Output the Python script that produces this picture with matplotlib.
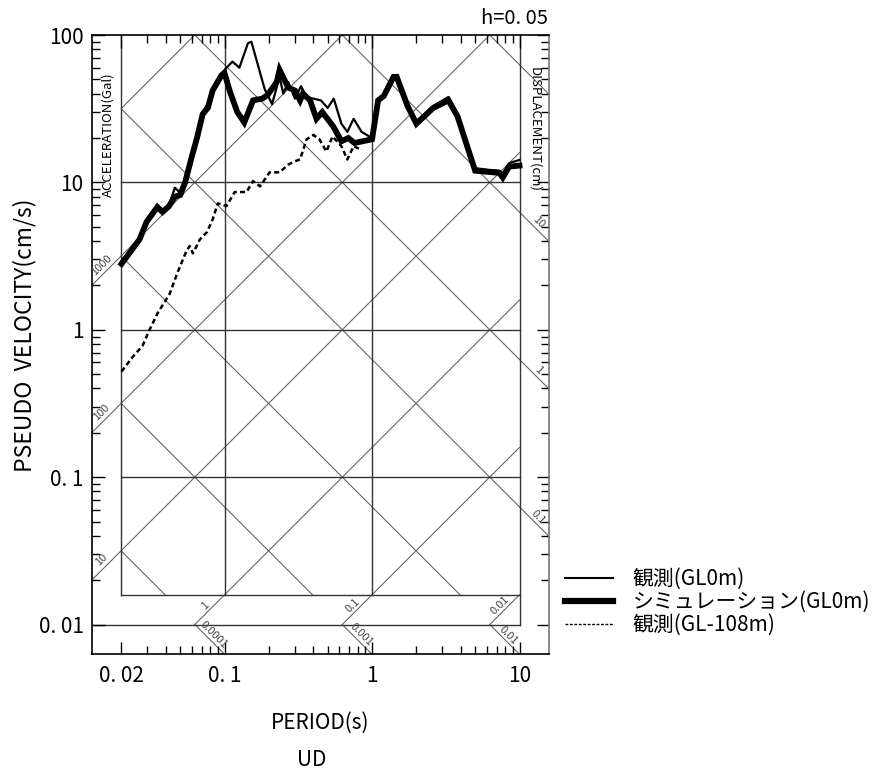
import numpy as np
import matplotlib
matplotlib.use("Agg")
import matplotlib.pyplot as plt
from matplotlib.lines import Line2D

# simulation (GL0m), thick line
period_sim = [0.02, 0.0265, 0.0296, 0.035, 0.038, 0.042, 0.046, 0.050, 0.054, 0.060,
              0.065, 0.071, 0.077, 0.083, 0.095, 0.10, 0.109, 0.122, 0.136, 0.156,
              0.18, 0.195, 0.226, 0.236, 0.27, 0.30, 0.325, 0.34, 0.38, 0.42,
              0.46, 0.545, 0.62, 0.69, 0.76, 0.86, 1.0, 1.1, 1.2, 1.4,
              1.47, 1.74, 2.0, 2.6, 3.3, 3.8, 5.0, 6.0, 7.3, 7.7, 8.5, 10.0]
vel_sim = [2.8, 4.1, 5.4, 6.8, 6.3, 6.9, 8.0, 8.2, 10.0, 15.0,
           20.0, 29.0, 32.0, 42.0, 53.0, 55.0, 41.0, 30.0, 25.5, 36.0,
           37.0, 39.0, 48.0, 58.0, 44.0, 42.0, 36.0, 40.0, 36.0, 27.0,
           30.0, 24.0, 19.0, 20.0, 18.5, 19.0, 19.6, 36.0, 38.5, 52.0,
           52.0, 33.0, 25.0, 32.0, 36.0, 28.0, 12.0, 11.8, 11.6, 10.8, 12.8, 13.0]

# observed (GL0m), thin line
period_obs = [0.02, 0.0265, 0.0296, 0.035, 0.038, 0.042, 0.046, 0.050, 0.054, 0.060,
              0.065, 0.071, 0.077, 0.083, 0.095, 0.10, 0.113, 0.126, 0.144, 0.152,
              0.187, 0.21, 0.236, 0.25, 0.27, 0.30, 0.33, 0.36, 0.40, 0.45,
              0.50, 0.55, 0.62, 0.68, 0.75, 0.85, 1.0, 1.1, 1.2, 1.4,
              1.47, 1.74, 2.0, 2.6, 3.3, 3.8, 5.0, 6.0, 7.3, 7.7, 8.5, 10.0]
vel_obs = [2.9, 4.2, 5.6, 7.0, 6.5, 7.0, 9.2, 8.5, 10.2, 15.5,
           21.0, 30.0, 34.0, 44.0, 55.0, 58.0, 66.0, 60.0, 88.0, 90.0,
           43.0, 34.0, 52.0, 40.0, 48.0, 37.0, 45.0, 38.0, 37.0, 36.0,
           32.0, 37.0, 25.0, 22.0, 27.0, 22.0, 20.0, 37.0, 39.0, 53.0,
           53.0, 34.0, 26.0, 33.0, 38.0, 29.0, 12.5, 12.2, 12.0, 11.5, 13.5, 14.2]

# observed (GL-108m), dashed line
period_deep = [0.02, 0.0237, 0.0278, 0.031, 0.0352, 0.0424, 0.048, 0.055, 0.058, 0.061,
               0.068, 0.076, 0.083, 0.09, 0.103, 0.117, 0.141, 0.156, 0.174, 0.202,
               0.236, 0.27, 0.30, 0.325, 0.36, 0.40, 0.44, 0.49, 0.54, 0.62,
               0.68, 0.75, 0.83]
vel_deep = [0.52, 0.65, 0.78, 1.0, 1.3, 1.75, 2.45, 3.4, 3.7, 3.3,
            4.1, 4.6, 5.6, 7.2, 6.9, 8.6, 8.6, 10.2, 9.4, 11.7,
            11.7, 13.2, 13.9, 14.3, 19.6, 21.0, 19.6, 16.2, 20.5, 17.6,
            14.3, 17.6, 16.8]

accel_levels = [0.01, 0.1, 1, 10, 100, 1000, 10000, 100000]   # Gal
disp_levels = [0.0001, 0.001, 0.01, 0.1, 1, 10, 100]          # cm

plt.rcParams['font.family'] = ['Noto Sans CJK JP', 'DejaVu Sans']

r = 10 ** 0.2
t_lo, t_hi = 0.02 / r, 10 * r
v_lo, v_hi = 0.01 / r, 100
v_box = 0.1 / (2 * np.pi)

fig = plt.figure(figsize=(8.73, 7.72), dpi=100)
ax = fig.add_axes([92 / 873, 118 / 772, 457 / 873, 619 / 772])
ax.set_xscale("log")
ax.set_yscale("log")
ax.set_xlim(t_lo, t_hi)
ax.set_ylim(v_lo, v_hi)


def segment(kind, level, t0, t1, v0, v1):
    if kind == "a":
        s, c = 1, np.log10(level / (2 * np.pi))
    else:
        s, c = -1, np.log10(2 * np.pi * level)
    ta, tb = sorted([(np.log10(v0) - c) / s, (np.log10(v1) - c) / s])
    lo = max(np.log10(t0), ta)
    hi = min(np.log10(t1), tb)
    if lo >= hi:
        return None
    lt = np.array([lo, hi])
    return 10 ** lt, 10 ** (s * lt + c)


dg = dict(color="#666666", lw=0.8, zorder=1)
for a in accel_levels:
    seg = segment("a", a, 0.02, 10, v_box, v_hi)
    if seg:
        ax.plot(*seg, **dg)
for d in disp_levels:
    seg = segment("d", d, 0.02, 10, v_box, v_hi)
    if seg:
        ax.plot(*seg, **dg)

lab = dict(fontsize=8, color="#444444", ha="center", va="center")
# acceleration extensions on the left
for a in [10, 100, 1000]:
    T, V = segment("a", a, t_lo, 0.02, v_lo, v_hi)
    ax.plot(T, V, **dg)
    tm = np.sqrt(T[0] * T[1])
    ax.annotate("%g" % a, (tm, a * tm / (2 * np.pi)), xytext=(-4, 4),
                textcoords="offset points", rotation=45, **lab)
# displacement extensions on the right
for d in [100, 10, 1, 0.1]:
    T, V = segment("d", d, 10, t_hi, v_lo, v_hi)
    ax.plot(T, V, **dg)
    if d == 100:
        continue
    tm = np.sqrt(T[0] * T[1])
    ax.annotate("%g" % d, (tm, 2 * np.pi * d / tm), xytext=(3, 3),
                textcoords="offset points", rotation=-45, **lab)
# acceleration extensions below the box
for a in [1, 0.1, 0.01]:
    T, V = segment("a", a, 0.02, 10, 0.01, v_box)
    ax.plot(T, V, **dg)
    tm = np.sqrt(T[0] * T[1])
    ax.annotate("%g" % a, (tm, a * tm / (2 * np.pi)), xytext=(-3, 3),
                textcoords="offset points", rotation=45, **lab)
# displacement extensions at the bottom
for d in [0.0001, 0.001, 0.01]:
    T, V = segment("d", d, 0.02, 10, v_lo, 0.01)
    ax.plot(T, V, **dg)
    tm = np.sqrt(T[0] * T[1])
    ax.annotate("%g" % d if d >= 0.001 else "0.0001", (tm, 2 * np.pi * d / tm),
                xytext=(3, 3), textcoords="offset points", rotation=-45, **lab)

# grid of the inner box
gk = dict(color="#333333", lw=1.0, zorder=1)
for t in [0.1, 1]:
    ax.plot([t, t], [v_box, v_hi], **gk)
ax.plot([0.02, 0.02], [v_box, v_hi], **gk)
ax.plot([10, 10], [0.01, v_hi], **gk)
for v in [0.1, 1, 10]:
    ax.plot([0.02, 10], [v, v], **gk)
ax.plot([0.02, 10], [v_box, v_box], **gk)
ax.plot([t_lo, 10], [0.01, 0.01], **gk)

# spectra
ax.plot(period_sim, vel_sim, color="black", lw=4.2, solid_joinstyle="miter", zorder=3)
ax.plot(period_obs, vel_obs, color="black", lw=1.6, zorder=4)
ax.plot(period_deep, vel_deep, color="black", lw=1.8, ls=(0, (2, 1.3)), zorder=4)

# ticks
ax.set_xticks([0.02, 0.1, 1, 10])
ax.set_xticklabels(["0. 02", "0. 1", "1", "10"])
xm = [k * 10.0 ** e for e in (-2, -1, 0) for k in range(2, 10)]
ax.set_xticks([x for x in xm if 0.02 < x < 10], minor=True)
ax.set_yticks([0.01, 0.1, 1, 10, 100])
ax.set_yticklabels(["0. 01", "0. 1", "1", "10", "100"])
ym = [k * 10.0 ** e for e in (-2, -1, 0, 1) for k in range(2, 10)]
ax.set_yticks(ym, minor=True)
ax.tick_params(which="both", direction="in", top=True, right=True, width=1.0,
               labelsize=15)
ax.tick_params(which="major", length=9)
ax.tick_params(which="minor", length=6)
ax.tick_params(axis="x", pad=8)
ax.tick_params(axis="y", pad=6)
for sp in ax.spines.values():
    sp.set_linewidth(1.2)
ax.spines["right"].set_color("#777777")

ax.text(0.0205 * 0.79, 21, "ACCELERATION(Gal)", rotation=90, ha="center", va="center",
        fontsize=9.5)
ax.text(10 * 1.26, 23, "DISPLACEMENT(cm)", rotation=-90, ha="center", va="center",
        fontsize=9.5)

fig.text(548 / 873, 1 - 19 / 772, "h=0. 05", ha="right", va="center", fontsize=14.5)
fig.text(25 / 873, 1 - 335 / 772, "PSEUDO  VELOCITY(cm/s)", rotation=90,
         ha="center", va="center", fontsize=16.5)
fig.text(320 / 873, 1 - 723 / 772, "PERIOD(s)", ha="center", va="center", fontsize=15)
fig.text(312 / 873, 1 - 760 / 772, "UD", ha="center", va="center", fontsize=15)

handles = [Line2D([], [], color="black", lw=1.5),
           Line2D([], [], color="black", lw=4.5),
           Line2D([], [], color="black", lw=1.0, ls=(0, (2, 1.2)))]
labels = ["観測(GL0m)", "シミュレーション(GL0m)", "観測(GL-108m)"]
fig.legend(handles, labels, loc="upper left", bbox_to_anchor=(565 / 873, 1 - 568 / 772),
           frameon=False, handlelength=2.3, handletextpad=0.95,
           labelspacing=0.05, borderpad=0, borderaxespad=0,
           prop={"family": ["Noto Sans CJK JP", "DejaVu Sans"], "size": 15})

fig.savefig("out.png", dpi=100)
